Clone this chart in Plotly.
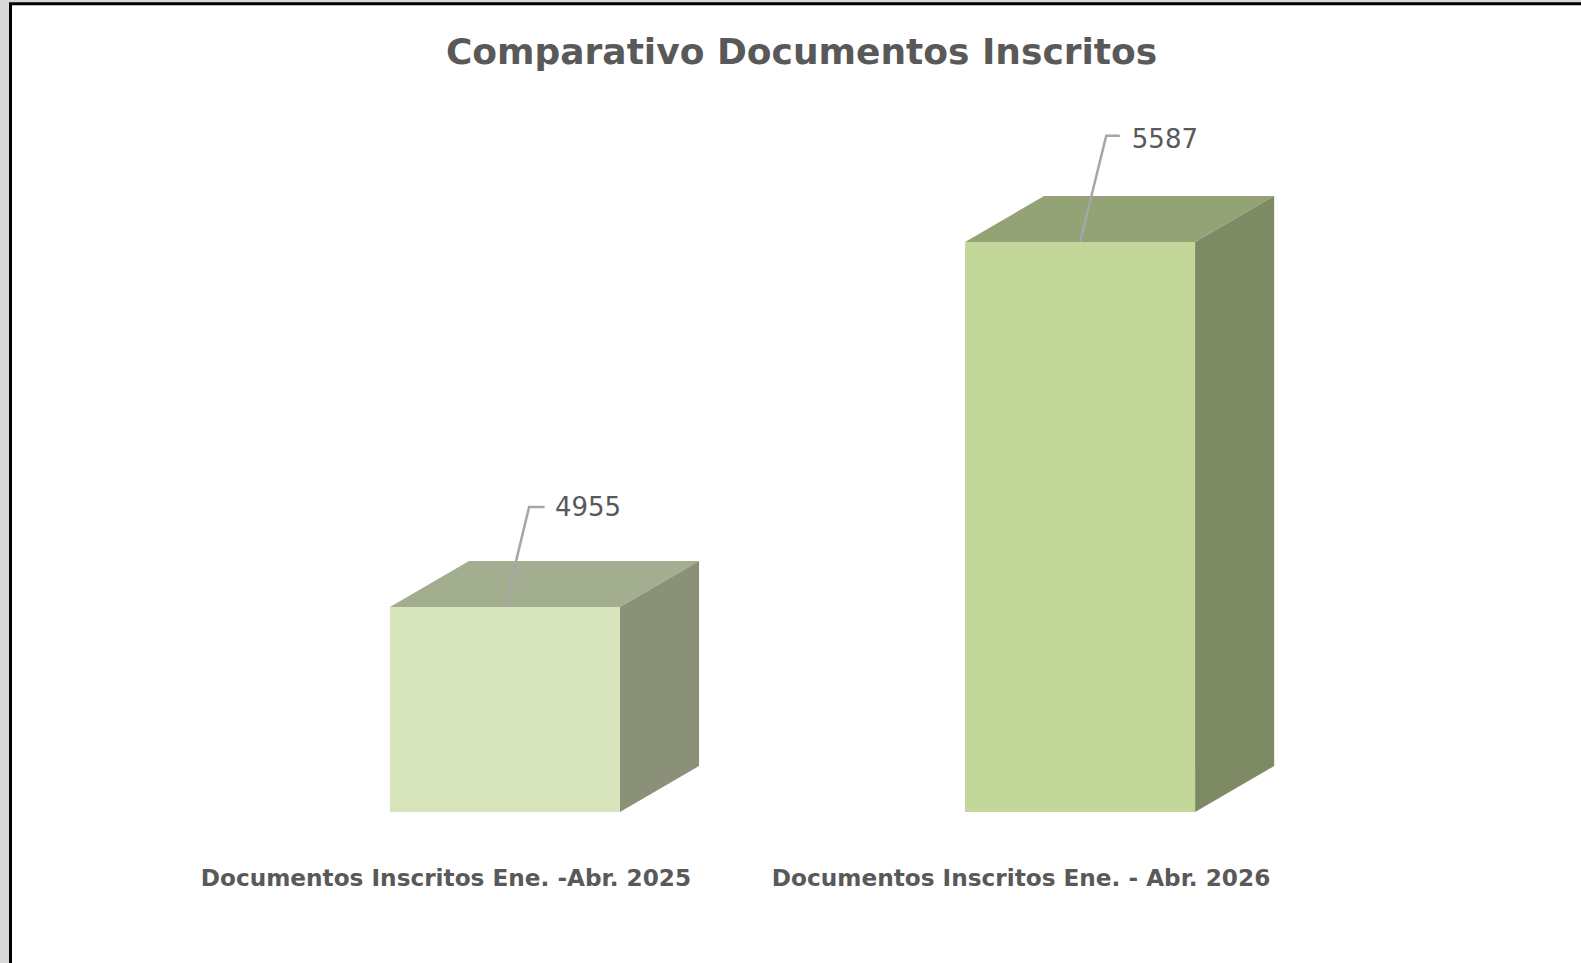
import plotly.graph_objects as go

title = "Comparativo Documentos Inscritos"
categories = ["Documentos Inscritos Ene. -Abr. 2025", "Documentos Inscritos Ene. - Abr. 2026"]
values = [4955, 5587]
front_colors = ["#d7e4bc", "#c4d79b"]
top_colors = ["#a3ad8f", "#94a376"]
side_colors = ["#8a9178", "#7e8a64"]

WIDTH, HEIGHT = 1581, 963
AXIS_MIN = 4600
AXIS_MAX = 6006
BAR_WIDTH = 0.4
# fake 3d depth of the boxes, in axis units
DEPTH_X = 0.1375
DEPTH_Y = 79.7
# tick labels sit left of the bars, like in the excel 3d chart
TICK_SHIFT = -0.1026
# leader line and data label offsets per bar
leader_rise = [173, 184]
leader_elbow = [0.042, 0.0455]
label_dx = [0.087, 0.09]
label_dy = [168, 173.5]

positions = list(range(len(values)))
half = BAR_WIDTH / 2

fig = go.Figure()

fig.add_trace(go.Bar(x=positions, y=values, width=BAR_WIDTH, marker=dict(color=front_colors, line=dict(width=0)),
                     hoverinfo="skip"))

for i, (pos, value) in enumerate(zip(positions, values)):
    left, right = pos - half, pos + half
    rise = leader_rise[i]
    fig.add_trace(go.Scatter(x=[left, right, right + DEPTH_X, left + DEPTH_X, left],
                             y=[value, value, value + DEPTH_Y, value + DEPTH_Y, value],
                             mode="lines", fill="toself", fillcolor=top_colors[i], line=dict(width=0),
                             hoverinfo="skip"))
    fig.add_trace(go.Scatter(x=[right, right + DEPTH_X, right + DEPTH_X, right, right],
                             y=[AXIS_MIN, AXIS_MIN + DEPTH_Y, value + DEPTH_Y, value, AXIS_MIN],
                             mode="lines", fill="toself", fillcolor=side_colors[i], line=dict(width=0),
                             hoverinfo="skip"))

    # leader line with its data label
    fig.add_trace(go.Scatter(x=[pos, pos + leader_elbow[i], pos + 0.069], y=[value, value + rise, value + rise],
                             mode="lines", line=dict(color="#a6a6a6", width=2.5), hoverinfo="skip"))
    fig.add_trace(go.Scatter(x=[pos + label_dx[i]], y=[value + label_dy[i]], mode="text", text=[str(value)],
                             textposition="middle right",
                             textfont=dict(family="DejaVu Sans", size=26, color="#595959"), hoverinfo="skip"))

fig.update_layout(
    width=WIDTH,
    height=HEIGHT,
    showlegend=False,
    margin=dict(l=0, r=0, t=0, b=151),
    paper_bgcolor="#d9d9d9",
    plot_bgcolor="rgba(0,0,0,0)",
    title=dict(text=title, x=0.507, xanchor="center", y=0.947, yanchor="middle",
               font=dict(family="DejaVu Sans", size=36, color="#595959", weight="bold")),
    shapes=[dict(type="rect", xref="paper", yref="paper", x0=10.5 / WIDTH, x1=1.01, y0=-0.2,
                 y1=1 - 4.5 / HEIGHT, fillcolor="white", line=dict(color="black", width=3), layer="below")],
)
fig.update_xaxes(range=[-0.878, 1.871], tickmode="array", tickvals=[p + TICK_SHIFT for p in positions],
                 ticktext=categories, ticks="outside", ticklen=45, tickcolor="rgba(0,0,0,0)",
                 showgrid=False, zeroline=False, showline=False,
                 tickfont=dict(family="DejaVu Sans", size=23.2, color="#595959", weight="bold"))
fig.update_yaxes(range=[AXIS_MIN, AXIS_MAX], visible=False)

fig.write_html("out.html", config=dict(displayModeBar=False),
               post_script="document.body.style.margin='0';document.body.style.overflow='hidden';")
